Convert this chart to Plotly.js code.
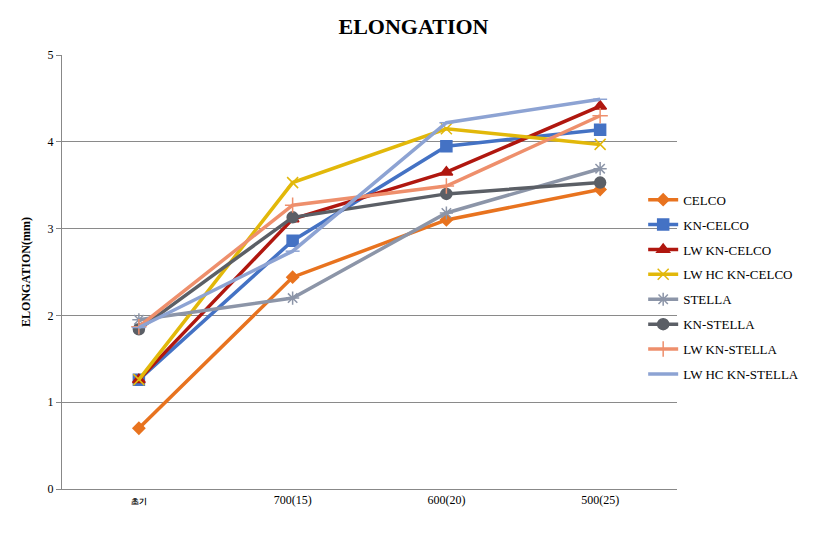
<!DOCTYPE html>
<html><head><meta charset="utf-8">
<script src="https://cdn.plot.ly/plotly-3.0.1.min.js"></script>
<style>body{margin:0;background:#fff}#c{width:827px;height:535px}</style>
</head><body><div id="c"></div>
<script>
const categories = ['초기', '700(15)', '600(20)', '500(25)'];
const seriesNames = ['CELCO', 'KN-CELCO', 'LW KN-CELCO', 'LW HC KN-CELCO', 'STELLA', 'KN-STELLA', 'LW KN-STELLA', 'LW HC KN-STELLA'];
const celco = [0.70, 2.44, 3.10, 3.45];
const knCelco = [1.26, 2.86, 3.95, 4.14];
const lwKnCelco = [1.26, 3.11, 3.65, 4.41];
const lwHcKnCelco = [1.26, 3.53, 4.15, 3.97];
const stella = [1.95, 2.20, 3.18, 3.69];
const knStella = [1.84, 3.13, 3.40, 3.53];
const lwKnStella = [1.87, 3.27, 3.49, 4.30];
const lwHcKnStella = [1.86, 2.74, 4.22, 4.49];
const tickLabels = ['<span style="font-size:8px;font-weight:bold">초기</span>', '700(15)', '600(20)', '500(25)'];

const SERIF = 'Liberation Serif, DejaVu Serif, serif';
const values = [celco, knCelco, lwKnCelco, lwHcKnCelco, stella, knStella, lwKnStella, lwHcKnStella];
const colors = ['#E8731F', '#4472C4', '#B0170F', '#E2B80A', '#8C95A8', '#5B5F66', '#EE8F6C', '#8DA3D3'];
const symbols = ['diamond', 'square', 'triangle-up', 'x-thin', 'asterisk-open', 'circle', 'cross-thin', 'line-ew'];
const sizes = [9, 11, 11, 11, 11, 11, 11, 10];

const traces = values.map((v, i) => ({
  x: categories, y: v, type: 'scatter', mode: 'lines+markers', name: seriesNames[i],
  legendgroup: 'g' + i,
  line: {color: colors[i], width: 3.5},
  marker: {symbol: symbols[i], size: sizes[i], color: colors[i], line: {color: colors[i], width: 1.5}}
}));

const layout = {
  width: 827, height: 535,
  margin: {l: 62, r: 150, t: 55, b: 46},
  paper_bgcolor: '#fff', plot_bgcolor: '#fff',
  font: {family: SERIF, color: '#000', size: 12},
  title: {text: '<b>ELONGATION</b>', x: 0.5, xanchor: 'center', y: 0.95, yanchor: 'middle',
          font: {family: SERIF, size: 22, color: '#000'}},
  xaxis: {
    type: 'category', tickvals: categories, ticktext: tickLabels,
    showline: true, linecolor: '#888', linewidth: 1, ticks: '', showgrid: false,
    tickfont: {family: SERIF, size: 12, color: '#000'}, range: [-0.5, 3.5], fixedrange: true
  },
  yaxis: {
    range: [0, 5], dtick: 1, showline: true, linecolor: '#888', linewidth: 1,
    ticks: 'outside', ticklen: 5, tickcolor: '#888', gridcolor: '#8a8a8a', gridwidth: 1,
    zeroline: false, tickfont: {family: SERIF, size: 12, color: '#000'},
    title: {text: '<b>ELONGATION(mm)</b>', font: {family: SERIF, size: 12, color: '#000'}, standoff: 14}
  },
  legend: {x: 0.945, xanchor: 'left', y: 0.465, yanchor: 'middle', traceorder: 'grouped', tracegroupgap: 5,
           font: {family: SERIF, size: 13, color: '#000'}, bgcolor: 'rgba(0,0,0,0)', itemwidth: 30},
  showlegend: true
};
Plotly.newPlot('c', traces, layout, {displayModeBar: false, staticPlot: true});
</script></body></html>
